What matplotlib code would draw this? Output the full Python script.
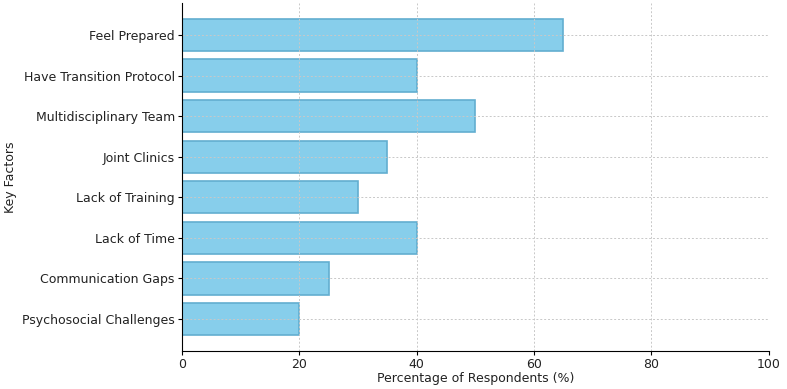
import matplotlib
matplotlib.use("Agg")
import matplotlib.pyplot as plt

# survey results
factors = ['Feel Prepared', 'Have Transition Protocol', 'Multidisciplinary Team',
           'Joint Clinics', 'Lack of Training', 'Lack of Time',
           'Communication Gaps', 'Psychosocial Challenges']
percentages = [65, 40, 50, 35, 30, 40, 25, 20]

fig = plt.figure(figsize=(7.87, 3.89), dpi=100)
ax = fig.add_axes([0.231, 0.098, 0.746, 0.894])

# reversed so the first factor sits on top
ax.barh(factors[::-1], percentages[::-1], color='skyblue', edgecolor='#62aed0', linewidth=1.2)

ax.set_xlim(0, 100)
ax.set_xlabel('Percentage of Respondents (%)', fontsize=9, labelpad=1, color='#222222')
ax.set_ylabel('Key Factors', fontsize=9, labelpad=4, color='#222222')
ax.tick_params(labelsize=9, length=3, pad=2, labelcolor='#222222')
ax.grid(True, color='#c8c8c8', linestyle=(0, (2, 2)), linewidth=0.7)

ax.spines['top'].set_visible(False)
ax.spines['right'].set_visible(False)

fig.savefig('out.png', dpi=100)
